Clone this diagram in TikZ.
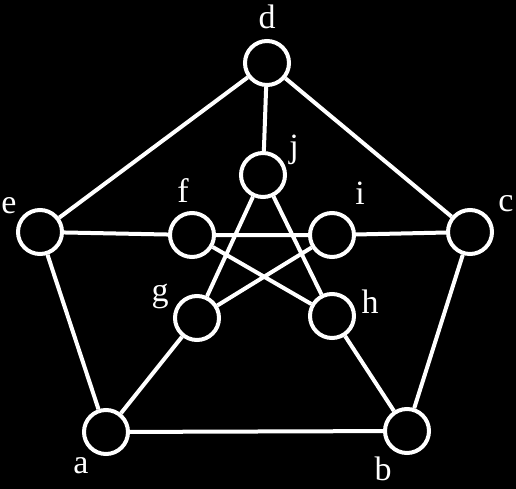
\documentclass[tikz,border=0pt]{standalone}
\usepackage{fontspec}
\setmainfont{Liberation Serif}
\begin{document}
\begin{tikzpicture}[x=1pt,y=-1pt,
  vtx/.style={circle,draw=white,fill=black,line width=4pt,minimum size=44pt,inner sep=0pt},
  lbl/.style={text=white,font=\fontsize{34}{34}\selectfont,inner sep=0pt},
  edge/.style={draw=white,line width=4pt}]
\fill[black] (0,0) rectangle (516,489);
\useasboundingbox (0,0) rectangle (516,489);
\node[vtx] (d) at (267,63) {};
\node[vtx] (e) at (40,232) {};
\node[vtx] (c) at (470,232) {};
\node[vtx] (a) at (106,432) {};
\node[vtx] (b) at (407,431) {};
\node[vtx] (j) at (263,175) {};
\node[vtx] (f) at (192,235) {};
\node[vtx] (i) at (332,235) {};
\node[vtx] (g) at (197,318) {};
\node[vtx] (h) at (332,316) {};
\node[lbl] (ld) at (267,17) {d};
\node[lbl] (le) at (9,206) {e};
\node[lbl] (lc) at (506,204) {c};
\node[lbl] (la) at (81,466) {a};
\node[lbl] (lb) at (383,469) {b};
\node[lbl] (lj) at (294,150) {j};
\node[lbl] (lf) at (183,191) {f};
\node[lbl] (li) at (360,193) {i};
\node[lbl] (lg) at (160,296) {g};
\node[lbl] (lh) at (370,302) {h};
\path[edge] (d) -- (c) (c) -- (b) (b) -- (a) (a) -- (e) (e) -- (d)
  (d) -- (j) (e) -- (f) (c) -- (i) (a) -- (g) (b) -- (h)
  (j) -- (g) (j) -- (h) (f) -- (i) (f) -- (h) (i) -- (g);
\end{tikzpicture}
\end{document}
